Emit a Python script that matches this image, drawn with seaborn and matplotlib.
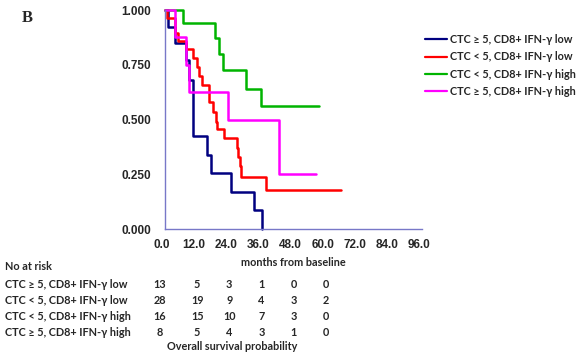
import matplotlib
matplotlib.use("Agg")
import matplotlib.pyplot as plt
import matplotlib.transforms as mtransforms
from matplotlib.ticker import MultipleLocator, FormatStrFormatter
from matplotlib.lines import Line2D
import seaborn as sns
import pandas as pd

groups = ["CTC \u2265 5, CD8+ IFN-\u03b3 low", "CTC < 5, CD8+ IFN-\u03b3 low",
          "CTC < 5, CD8+ IFN-\u03b3 high", "CTC \u2265 5, CD8+ IFN-\u03b3 high"]
colors = ["#000080", "#ff0000", "#00b400", "#ff00ff"]

navy_t = [0, 1.2, 3.7, 7.9, 9.1, 10.4, 15.8, 17.1, 24.7, 33.3, 36.2]
navy_s = [1.0, 0.922, 0.85, 0.77, 0.68, 0.424, 0.34, 0.255, 0.17, 0.085, 0.0]
red_t = [0, 0.6, 3.7, 4.7, 7.9, 10.3, 12.0, 12.8, 14.0, 16.6, 18.1, 19.1, 19.6, 22.1,
         26.8, 27.4, 27.9, 28.5, 37.6, 65.8]
red_s = [1.0, 0.964, 0.893, 0.857, 0.82, 0.78, 0.74, 0.70, 0.66, 0.58, 0.535, 0.49, 0.455,
         0.415, 0.37, 0.33, 0.29, 0.24, 0.18, 0.18]
green_t = [0, 6.8, 18.5, 20.0, 21.5, 30.3, 36.0, 57.6]
green_s = [1.0, 0.939, 0.872, 0.80, 0.724, 0.64, 0.561, 0.561]
mag_t = [0, 3.7, 7.7, 9.0, 23.4, 42.6, 56.4]
mag_s = [1.0, 0.875, 0.75, 0.625, 0.50, 0.25, 0.25]

risk_times = [0, 12, 24, 36, 48, 60]
risk_navy = [13, 5, 3, 1, 0, 0]
risk_red = [28, 19, 9, 4, 3, 2]
risk_green = [16, 15, 10, 7, 3, 0]
risk_mag = [8, 5, 4, 3, 1, 0]

frames = []
for g, t, s in zip(groups, [navy_t, red_t, green_t, mag_t], [navy_s, red_s, green_s, mag_s]):
    frames.append(pd.DataFrame({"months": t, "surv": s, "group": g}))
df = pd.concat(frames, ignore_index=True)

sns.set_style("white")
plt.rcParams['font.family'] = ['Liberation Sans', 'DejaVu Sans']

fig = plt.figure(figsize=(5.86, 3.58), dpi=100)
ax = fig.add_axes([0.2816, 0.360, 0.4386, 0.612])

sns.lineplot(data=df, x="months", y="surv", hue="group", hue_order=groups,
             palette=colors, estimator=None, sort=False, units="group",
             drawstyle="steps-post", linewidth=1.8, ax=ax, legend=False)
for ln in ax.lines:
    ln.set_clip_on(False)

ax.set_xlim(0, 96)
ax.set_ylim(0, 1)
ax.xaxis.set_major_locator(MultipleLocator(12))
ax.xaxis.set_major_formatter(FormatStrFormatter("%.1f"))
ax.yaxis.set_major_locator(MultipleLocator(0.25))
ax.yaxis.set_minor_locator(MultipleLocator(0.05))
ax.yaxis.set_major_formatter(FormatStrFormatter("%.3f"))
axcol = "#7878c8"
for sp in ["top", "right"]:
    ax.spines[sp].set_visible(False)
for sp in ["left", "bottom"]:
    ax.spines[sp].set_color(axcol)
    ax.spines[sp].set_linewidth(1.0)
ax.tick_params(axis="both", which="both", direction="out", color=axcol, width=1)
ax.tick_params(axis="y", which="major", length=4, pad=6)
ax.tick_params(axis="y", which="minor", length=4)
ax.tick_params(axis="x", which="major", length=4, pad=3)
ax.set_xlabel("")
ax.set_ylabel("")
shift = mtransforms.ScaledTranslation(-3 / 100, 0, fig.dpi_scale_trans)
for lab in ax.get_xticklabels():
    lab.set_transform(lab.get_transform() + shift)
for lab in ax.get_xticklabels() + ax.get_yticklabels():
    lab.set_fontweight("bold")
    lab.set_fontsize(8.5)

cal = ['Lato', 'DejaVu Sans']
fs = 7.8

handles = [Line2D([0], [0], color=c, lw=1.6) for c in colors]
leg = fig.legend(handles, groups, loc="upper left", bbox_to_anchor=(0.726, 0.905),
                 frameon=False, handlelength=2.0, handletextpad=0.3, labelspacing=0.58,
                 borderaxespad=0, borderpad=0,
                 prop={'family': cal, 'weight': 'bold', 'size': fs})

fig.text(22 / 586, 1 - 18 / 358, "B", family=['Liberation Serif'], fontweight="bold",
         fontsize=12, ha="left", va="center")

tr = mtransforms.blended_transform_factory(ax.transData, fig.transFigure)
fig.text(293 / 586, 1 - 262 / 358, "months from baseline", family=cal, fontweight="bold",
         fontsize=fs, ha="center", va="center")
fig.text(5 / 586, 1 - 267 / 358, "No at risk", family=cal, fontweight="bold",
         fontsize=fs, ha="left", va="center")
rows_y = [285, 301, 316, 332]
for g, vals, yy in zip(groups, [risk_navy, risk_red, risk_green, risk_mag], rows_y):
    fig.text(5 / 586, 1 - yy / 358, g, family=cal, fontweight="bold", fontsize=fs,
             ha="left", va="center")
    for t, v in zip(risk_times, vals):
        ax.text(t - (2 if t == 0 else 0), 1 - yy / 358, str(v), transform=tr, family=cal,
                fontweight="bold", fontsize=fs, ha="center", va="center")
fig.text(232 / 586, 1 - 346 / 358, "Overall survival probability", family=cal,
         fontweight="bold", fontsize=fs, ha="center", va="center")

fig.savefig("out.png", dpi=100)
